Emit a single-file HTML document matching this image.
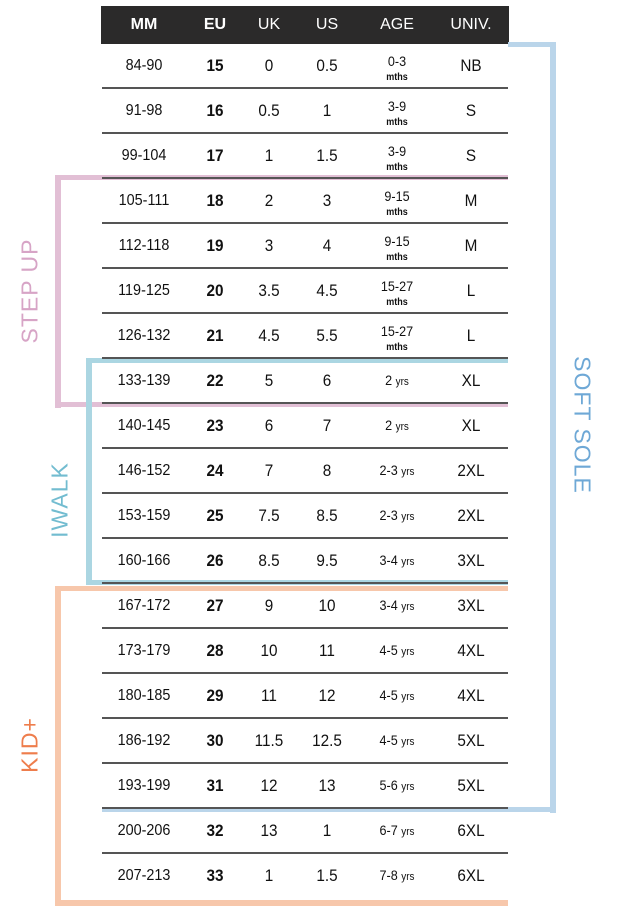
<!DOCTYPE html>
<html><head><meta charset="utf-8"><style>
body{margin:0;width:643px;height:913px;background:#fff;position:relative;overflow:hidden;font-family:"Liberation Sans",sans-serif;}
.hdr{position:absolute;left:101px;top:6px;width:408px;height:38px;background:#2b2a2a;}
.h{position:absolute;top:6px;height:38px;line-height:38px;color:#fff;font-size:16px;transform:translateX(-50%);}
.sep{position:absolute;left:102px;width:406px;height:1.5px;background:#555;}
.c{position:absolute;top:0;height:45px;line-height:45px;font-size:16px;color:#111;transform:translateX(-50%) scaleX(0.9);white-space:nowrap;}
.b{font-weight:bold;font-size:17px;}
.age{line-height:1;}
.ln{position:absolute;}
.lbl{position:absolute;font-size:23px;white-space:nowrap;letter-spacing:1px;}
</style></head><body>
<div class="hdr"></div>
<div class="h" style="left:144px;font-weight:bold">MM</div>
<div class="h" style="left:215px;font-weight:bold">EU</div>
<div class="h" style="left:269px">UK</div>
<div class="h" style="left:327px">US</div>
<div class="h" style="left:397px">AGE</div>
<div class="h" style="left:471px">UNIV.</div>

<div class="ln" style="left:508px;top:42px;width:48px;height:5px;background:#bad5ea"></div>
<div class="ln" style="left:550px;top:42px;width:6px;height:771px;background:#bad5ea"></div>
<div class="ln" style="left:102px;top:807px;width:454px;height:5px;background:#bad5ea"></div>

<div class="ln" style="left:55px;top:175px;width:453px;height:5px;background:#e2bfd5"></div>
<div class="ln" style="left:55px;top:175px;width:6px;height:233px;background:#e2bfd5"></div>
<div class="ln" style="left:55px;top:402px;width:453px;height:5px;background:#e2bfd5"></div>

<div class="ln" style="left:86px;top:358px;width:422px;height:5px;background:#abd6e2"></div>
<div class="ln" style="left:86px;top:358px;width:6px;height:227px;background:#abd6e2"></div>
<div class="ln" style="left:86px;top:580px;width:422px;height:5px;background:#abd6e2"></div>

<div class="ln" style="left:55px;top:586px;width:453px;height:5px;background:#f7c7ab"></div>
<div class="ln" style="left:55px;top:586px;width:6px;height:320px;background:#f7c7ab"></div>
<div class="ln" style="left:55px;top:900px;width:453px;height:6px;background:#f7c7ab"></div>

<div class="lbl" style="left:30px;top:291px;color:#d7a4c6;transform:translate(-50%,-50%) rotate(-90deg)">STEP UP</div>
<div class="lbl" style="left:60px;top:500px;color:#72bcd0;transform:translate(-50%,-50%) rotate(-90deg)">IWALK</div>
<div class="lbl" style="left:30px;top:745px;color:#ee7d4c;transform:translate(-50%,-50%) rotate(-90deg)">KID+</div>
<div class="lbl" style="left:582px;top:425px;color:#6ea8d6;transform:translate(-50%,-50%) rotate(90deg)">SOFT SOLE</div>

<div id="t"></div>
<script>
var d=[["84-90",15,"0","0.5","0-3","m","NB"],["91-98",16,"0.5","1","3-9","m","S"],["99-104",17,"1","1.5","3-9","m","S"],["105-111",18,"2","3","9-15","m","M"],["112-118",19,"3","4","9-15","m","M"],["119-125",20,"3.5","4.5","15-27","m","L"],["126-132",21,"4.5","5.5","15-27","m","L"],["133-139",22,"5","6","2","y","XL"],["140-145",23,"6","7","2","y","XL"],["146-152",24,"7","8","2-3","y","2XL"],["153-159",25,"7.5","8.5","2-3","y","2XL"],["160-166",26,"8.5","9.5","3-4","y","3XL"],["167-172",27,"9","10","3-4","y","3XL"],["173-179",28,"10","11","4-5","y","4XL"],["180-185",29,"11","12","4-5","y","4XL"],["186-192",30,"11.5","12.5","4-5","y","5XL"],["193-199",31,"12","13","5-6","y","5XL"],["200-206",32,"13","1","6-7","y","6XL"],["207-213",33,"1","1.5","7-8","y","6XL"]];
var h="";
d.forEach(function(r,i){var top=43+45*i;
h+='<div class="c" style="left:144px;top:'+top+'px;font-size:16px">'+r[0]+'</div>';
h+='<div class="c b" style="left:215px;top:'+top+'px">'+r[1]+'</div>';
h+='<div class="c" style="left:269px;top:'+top+'px;font-size:17px">'+r[2]+'</div>';
h+='<div class="c" style="left:327px;top:'+top+'px;font-size:17px">'+r[3]+'</div>';
if(r[5]=="m"){h+='<div class="c age" style="left:397px;top:'+(top+11)+'px;height:auto;text-align:center;font-size:14px">'+r[4]+'<br><span style="font-size:10px;font-weight:bold">mths</span></div>';}
else{h+='<div class="c" style="left:397px;top:'+top+'px;font-size:14px">'+r[4]+' <span style="font-size:11px">yrs</span></div>';}
h+='<div class="c" style="left:471px;top:'+top+'px;font-size:17px">'+r[6]+'</div>';
if(i<18)h+='<div class="sep" style="top:'+(top+44)+'px"></div>';});
document.getElementById("t").innerHTML=h;
</script>
</body></html>
